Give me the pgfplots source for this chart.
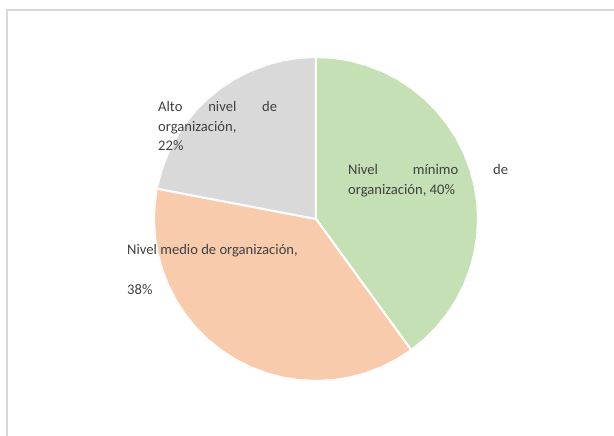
\documentclass[border=0pt]{standalone}
\usepackage{pgfplots}
\pgfplotsset{compat=1.18}
\usepgfplotslibrary{polar}
\usepackage{fontspec}
\setmainfont{Carlito}
\definecolor{sgreen}{HTML}{C5E0B4}
\definecolor{sorange}{HTML}{F8CBAD}
\definecolor{sgray}{HTML}{D9D9D9}
\definecolor{txt}{HTML}{404040}
\definecolor{frame}{HTML}{D9D9D9}
\begin{document}
\begin{tikzpicture}[x=1pt,y=1pt]
\useasboundingbox (0,0) rectangle (614,436);
\draw[frame,line width=1.5pt] (7,-20) -- (7,426) -- (640,426);
% shares: Nivel minimo 40%, Nivel medio 38%, Alto nivel 22%
\begin{polaraxis}[
  at={(316pt,217pt)}, anchor=origin,
  width=324pt, height=324pt, scale only axis,
  ymin=0, ymax=1, xmin=0, xmax=360,
  hide axis,
]
% 40% : from 90 deg clockwise to -54 deg
\addplot[fill=sgreen, draw=white, line width=2pt, line join=round] coordinates {
(0,0) (90,1) (84,1) (78,1) (72,1) (66,1) (60,1) (54,1) (48,1) (42,1) (36,1) (30,1)
(24,1) (18,1) (12,1) (6,1) (0,1) (-6,1) (-12,1) (-18,1) (-24,1) (-30,1) (-36,1)
(-42,1) (-48,1) (-54,1) (0,0)};
% 38% : from -54 deg to -190.8 deg
\addplot[fill=sorange, draw=white, line width=2pt, line join=round] coordinates {
(0,0) (-54,1) (-60,1) (-66,1) (-72,1) (-78,1) (-84,1) (-90,1) (-96,1) (-102,1)
(-108,1) (-114,1) (-120,1) (-126,1) (-132,1) (-138,1) (-144,1) (-150,1) (-156,1)
(-162,1) (-168,1) (-174,1) (-180,1) (-186,1) (-190.8,1) (0,0)};
% 22% : from 169.2 deg to 90 deg
\addplot[fill=sgray, draw=white, line width=2pt, line join=round] coordinates {
(0,0) (169.2,1) (168,1) (162,1) (156,1) (150,1) (144,1) (138,1) (132,1) (126,1)
(120,1) (114,1) (108,1) (102,1) (96,1) (90,1) (0,0)};
\end{polaraxis}
\begin{scope}[every node/.style={inner sep=0pt, anchor=base west, text=txt, font=\fontsize{14.6}{17}\selectfont}]
\node at (348,436-175) {\hbox to 160pt{Nivel\hfil mínimo\hfil de}};
\node at (348,436-195) {organización, 40\%};
\node at (158,436-112) {\hbox to 119pt{Alto\hfil nivel\hfil de}};
\node at (158,436-132) {organización,};
\node at (158,436-151) {22\%};
\node at (127,436-255) {Nivel medio de organización,};
\node at (127,436-295) {38\%};
\end{scope}
\end{tikzpicture}
\end{document}
